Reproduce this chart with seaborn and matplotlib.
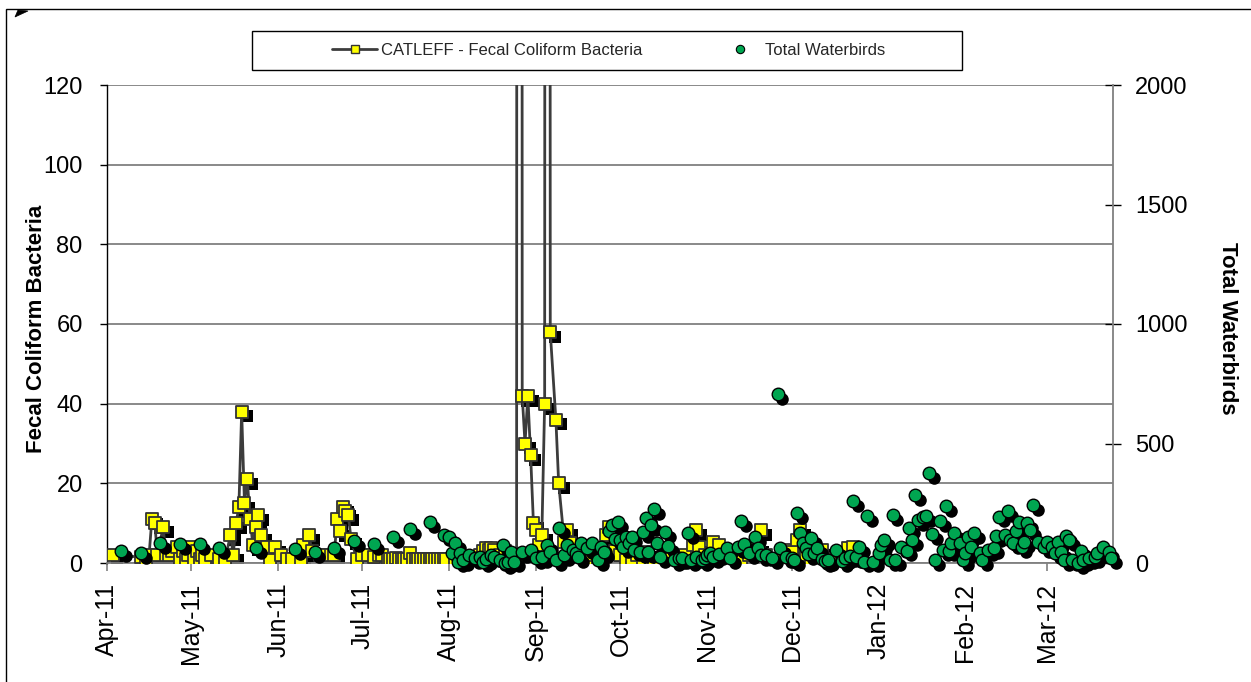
import pandas as pd
import matplotlib
matplotlib.use("Agg")
import matplotlib.pyplot as plt
import matplotlib.dates as mdates
import matplotlib.transforms as mtransforms
from matplotlib.patches import Rectangle, Polygon
from matplotlib.lines import Line2D
import seaborn as sns

# ---------------------------------------------------------------- data
START = pd.Timestamp("2011-04-01")
END = pd.Timestamp("2012-03-24 14:00")

# CATLEFF fecal coliform samples: days after 1 Apr 2011 and counts
fecal_day = [
    2, 12, 14, 15, 16, 17, 18, 20, 21, 22, 23, 25, 26, 27, 28, 29, 30, 31, 32, 33, 34, 35, 37,
    40, 42, 44, 45, 46, 47, 48, 49, 50, 51, 52, 53, 54, 55, 57, 58, 60, 62, 64, 66, 69, 70, 72,
    73, 76, 78, 80,
    81, 82, 83, 84, 85, 86, 87, 89, 91, 93, 95, 97, 98,
    100, 101, 102, 103, 104, 105, 106, 107, 108, 109, 110, 111, 112, 113, 114, 115, 116, 117,
    118, 119, 120, 121,
    124, 127, 130, 133, 134, 135, 136, 137, 138, 140, 142, 144, 146, 147, 148, 149, 150, 151,
    152, 153, 154, 155, 156, 157, 158, 160, 161, 163, 164, 165, 167, 169, 171, 173, 175, 176,
    178, 179, 181, 183, 185, 187, 189, 191, 193, 194, 195, 197, 199, 201, 204, 206, 209, 210,
    211, 213, 216, 218, 220, 222, 224, 226, 229, 232, 233, 235, 237, 240, 242, 243, 244, 246,
    247, 249, 251, 253, 255, 257, 259, 262, 264, 266,
]
fecal_cfu = [
    2, 1.5, 0.5, 2, 11, 10, 2, 9, 2, 2, 3, 4, 1, 3, 1, 2, 4, 1, 3, 1, 2, 1, 2,
    1, 0.5, 7, 2, 10, 14, 38, 15, 21, 11, 4.5, 9, 12, 7, 4, 0.7, 3.9, 2, 1, 1, 1, 4.5, 7,
    3, 2, 2, 2,
    2, 11, 8, 14, 13, 12, 6, 1, 2, 2, 1.5, 2, 2,
    1, 1, 1, 1.2, 1, 0.9, 1, 1, 2.5, 1, 1.1, 1, 1, 0.9, 1, 1, 1.1, 1,
    1, 1, 0.9, 1,
    1, 1, 1, 2, 3, 3.7, 3.3, 3.7, 3.3, 2, 3, 2, 1, 2500, 42, 30, 42, 27,
    10, 8.3, 4.5, 7, 40, 1800, 58, 36, 20, 5.3, 8.3, 5, 3, 2, 1, 2, 1, 0.75,
    7, 9, 3, 2, 0.75, 1, 2, 1, 2.8, 0.8, 1, 1, 2, 1, 1, 2, 4.5, 8.3,
    4, 2, 5.3, 4.5, 2, 1, 2, 1, 2, 4, 8.3, 2, 1, 1, 2, 3.3, 2.8, 5.8,
    8.3, 2, 1, 1, 3.3, 1, 1, 1, 3.8, 4,
]

# Total waterbird counts: days after 1 Apr 2011 and birds counted
bird_day = [
    5, 12, 19, 26, 33, 40, 53, 67, 74, 81, 88, 95, 102, 108, 115,
    120, 122, 123, 124, 125, 126, 127, 129, 131, 133, 134, 135, 137, 138, 140, 141, 142, 143,
    144, 145, 148, 151, 153, 155, 157, 158, 160, 161, 163, 164, 166, 167, 168, 169, 171, 173,
    175, 176, 177, 179, 180, 181, 182, 183, 184, 185, 186, 187, 188, 190, 191, 192, 193, 194,
    195, 196, 197, 199, 200, 202, 204, 205, 207, 208, 210, 212, 213, 214, 215, 216, 218, 221,
    222, 225, 226, 227, 229, 231, 232, 233, 235, 237, 239, 240, 242, 244, 245, 246, 247, 248,
    249, 250, 251, 252, 253, 255, 256, 257, 260, 262, 263, 265, 266, 267, 268, 270, 271, 273,
    275, 276, 277, 279, 280, 281, 283, 285, 286, 287, 288, 289, 291, 292, 293, 294, 295, 297,
    298, 299, 300, 301, 302, 304, 305, 306, 307, 308, 309, 311, 312, 314, 316, 317, 318, 320,
    321, 322, 323, 324, 325, 326, 327, 328, 329, 330, 332, 334, 335, 337, 338, 339, 340, 341,
    342, 343, 344, 346, 347, 348, 350, 352, 353, 355, 357, 358,
]
bird_count = [
    51, 43, 85, 78, 78, 64, 61, 59, 47, 61, 93, 78, 110, 142, 170,
    117, 110, 40, 85, 6, 40, 12, 33, 20, 26, 6, 16, 33, 27, 12, 75, 0, 6,
    47, 6, 47, 54, 20, 26, 75, 47, 12, 145, 33, 75, 54, 40, 26, 82, 61, 82,
    12, 68, 47, 135, 159, 99, 173, 96, 68, 110, 82, 110, 54, 47, 131, 190, 47, 159,
    225, 85, 26, 131, 72, 12, 20, 20, 126, 12, 26, 12, 20, 33, 40, 26, 37, 61,
    20, 68, 176, 80, 40, 110, 61, 33, 33, 20, 707, 61, 26, 20, 12, 210, 124, 85,
    61, 38, 105, 40, 62, 16, 8, 12, 53, 8, 20, 30, 258, 26, 68, 6, 197, 6,
    40, 75, 96, 12, 201, 12, 68, 52, 145, 96, 285, 180, 194, 197, 378, 121, 12, 177,
    54, 240, 52, 85, 124, 82, 12, 40, 110, 68, 124, 40, 12, 54, 61, 114, 194, 117,
    219, 96, 82, 135, 173, 68, 89, 166, 138, 243, 89, 68, 89, 68, 40, 89, 47, 12,
    113, 96, 12, 1, 52, 12, 20, 26, 40, 68, 47, 20,
]

assert len(fecal_day) == len(fecal_cfu)
assert len(bird_day) == len(bird_count)

fecal = pd.DataFrame({"date": START + pd.to_timedelta(fecal_day, unit="D"),
                      "cfu": fecal_cfu})
birds = pd.DataFrame({"date": START + pd.to_timedelta(bird_day, unit="D"),
                      "count": bird_count})

FECAL_LABEL = "CATLEFF - Fecal Coliform Bacteria"
BIRD_LABEL = "Total Waterbirds"

YELLOW = "#FFFF00"
GREEN = "#00A651"
LINE_GREY = "#3C3C3C"
AXIS_GREY = "#808080"

# ---------------------------------------------------------------- style
sns.set_theme(style="white")
plt.rcParams["font.family"] = ["Liberation Sans", "DejaVu Sans"]

W, H = 1251, 682
fig = plt.figure(figsize=(W / 100, H / 100), dpi=100)
fig.patch.set_facecolor("white")

ax = fig.add_axes([107 / W, 1 - 563 / H, (1113 - 107) / W, (563 - 85) / H])
ax2 = ax.twinx()

SHADOW_PT = 3.5
MARK_S = 82


def drop_shadow(axis, collection):
    collection.set_offset_transform(
        mtransforms.offset_copy(axis.transData, fig=fig, x=SHADOW_PT, y=-SHADOW_PT,
                                units="points"))


# ---------------------------------------------------------------- fecal series
sns.scatterplot(data=fecal, x="date", y="cfu", ax=ax, marker="s", s=MARK_S,
                color="black", edgecolor="black", linewidth=0, zorder=2, legend=False)
drop_shadow(ax, ax.collections[-1])
sns.lineplot(data=fecal, x="date", y="cfu", ax=ax, color=LINE_GREY, linewidth=2,
             estimator=None, sort=False, zorder=3, legend=False)
sns.scatterplot(data=fecal, x="date", y="cfu", ax=ax, marker="s", s=MARK_S,
                color=YELLOW, edgecolor="#333333", linewidth=1.3, zorder=4, legend=False)

# ---------------------------------------------------------------- waterbird series
sns.scatterplot(data=birds, x="date", y="count", ax=ax2, marker="o", s=MARK_S,
                color="black", edgecolor="black", linewidth=0, zorder=2, legend=False,
                clip_on=False)
drop_shadow(ax2, ax2.collections[-1])
sns.scatterplot(data=birds, x="date", y="count", ax=ax2, marker="o", s=MARK_S,
                color=GREEN, edgecolor="black", linewidth=1.0, zorder=3, legend=False,
                clip_on=False)

# ---------------------------------------------------------------- axes
ax.set_xlim(START, END)
ax.set_ylim(0, 120)
ax.set_yticks(range(0, 121, 20))
ax2.set_ylim(0, 2000)
ax2.set_yticks(range(0, 2001, 500))

ax.xaxis.set_major_locator(mdates.MonthLocator())
ax.xaxis.set_major_formatter(mdates.DateFormatter("%b-%y"))

ax.set_axisbelow(True)
ax.yaxis.grid(True, color=AXIS_GREY, linewidth=1.3)
ax.xaxis.grid(False)
ax2.grid(False)

for side in ("top", "right"):
    ax.spines[side].set_visible(False)
ax.spines["left"].set_color("black")
ax.spines["left"].set_linewidth(1.0)
ax.spines["bottom"].set_color(AXIS_GREY)
ax.spines["bottom"].set_linewidth(1.3)
for side in ("top", "left", "bottom"):
    ax2.spines[side].set_visible(False)
ax2.spines["right"].set_color(AXIS_GREY)
ax2.spines["right"].set_linewidth(1.3)

ax.tick_params(axis="y", which="major", left=True, direction="out", length=5, width=1,
               color="black", labelsize=17, pad=12.5, labelcolor="black")
ax.tick_params(axis="x", which="major", bottom=True, direction="out", length=6, width=1.2,
               color=AXIS_GREY, labelsize=18, pad=8, labelrotation=90, labelcolor="black")
ax2.tick_params(axis="y", which="major", right=True, direction="inout", length=11.5,
                width=1, color="black", labelsize=17, pad=10, labelcolor="black")

for lab in ax.get_xticklabels():
    lab.set_horizontalalignment("center")

ax.set_xlabel("")
ax.set_ylabel("Fecal Coliform Bacteria", fontsize=16, fontweight="bold", color="black")
ax.yaxis.label.set(va="center", ha="center", rotation_mode="anchor")
ax.yaxis.set_label_coords(-0.0701, 0.49)

ax2.set_ylabel(BIRD_LABEL, fontsize=16, fontweight="bold", color="black", rotation=-90)
ax2.yaxis.label.set(va="center", ha="center", rotation_mode="anchor")
ax2.yaxis.set_label_coords(1.1143, 0.49)

# ---------------------------------------------------------------- legend
fecal_handle = Line2D([], [], color=LINE_GREY, linewidth=2, marker="s", markersize=6,
                      markerfacecolor=YELLOW, markeredgecolor="#333333",
                      markeredgewidth=1)
bird_handle = Line2D([], [], linestyle="none", marker="o", markersize=6,
                     markerfacecolor=GREEN, markeredgecolor="black", markeredgewidth=0.8)
fig.legend([fecal_handle, bird_handle], [FECAL_LABEL, BIRD_LABEL], loc="center",
           bbox_to_anchor=(609 / W, 1 - 50.5 / H), ncol=2, frameon=False, fontsize=12,
           handlelength=2.7, handletextpad=0.2, columnspacing=4.5)
fig.add_artist(Rectangle((252 / W, 1 - 70 / H), 710 / W, 39 / H, fill=False,
                         edgecolor="black", linewidth=1, transform=fig.transFigure))

# chart-area border and corner pointer
fig.add_artist(Rectangle((6 / W, -0.5), 1.5, 0.5 + (1 - 9 / H), fill=False,
                         edgecolor="black", linewidth=1, transform=fig.transFigure))
fig.add_artist(Polygon([(15 / W, 1 - 17 / H), (18 / W, 1 - 10 / H), (28 / W, 1 - 11 / H)],
                       closed=True, facecolor="black", edgecolor="black", linewidth=0.5,
                       transform=fig.transFigure))

fig.savefig("out.png", dpi=100, facecolor="white")
